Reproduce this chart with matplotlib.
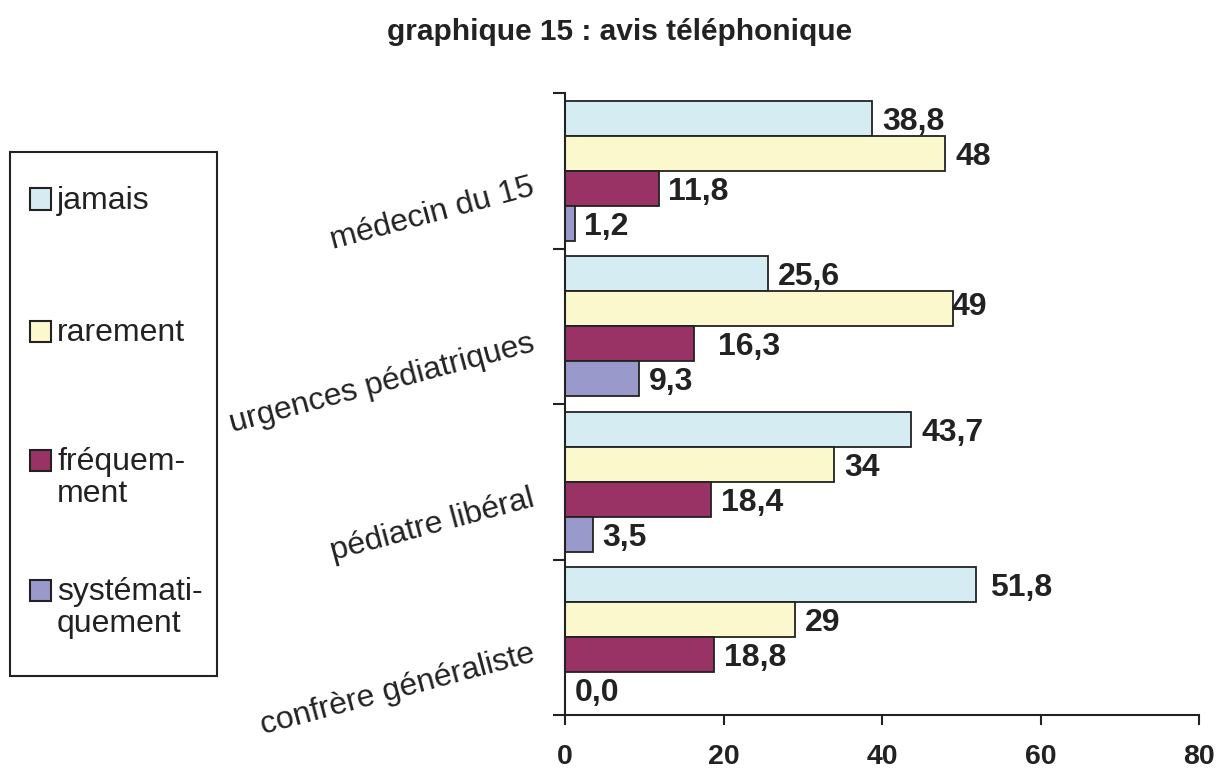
import matplotlib.pyplot as plt
from matplotlib.patches import Rectangle
from matplotlib.transforms import ScaledTranslation
import numpy as np

plt.rcParams['font.family'] = ['Liberation Sans', 'DejaVu Sans']

title = "graphique 15 : avis téléphonique"
categories = ["médecin du 15", "urgences pédiatriques", "pédiatre libéral", "confrère généraliste"]
series = ["jamais", "rarement", "fréquem-\nment", "systémati-\nquement"]
jamais = [38.8, 25.6, 43.7, 51.8]
rarement = [48, 49, 34, 29]
frequemment = [11.8, 16.3, 18.4, 18.8]
systematiquement = [1.2, 9.3, 3.5, 0.0]
decimals = [1, 0, 1, 1]
xticks = [0, 20, 40, 60, 80]

colors = ["#d4ecf2", "#fbf8cd", "#993366", "#9999cc"]
ink = '#222222'

W, H = 1219, 773
fig = plt.figure(figsize=(W / 100, H / 100), dpi=100)

def fx(px):
    return px / W

def fy(py):
    return 1 - py / H

ax = fig.add_axes([fx(565), fy(715), fx(1199) - fx(565), fy(93) - fy(715)])

values = [jamais, rarement, frequemment, systematiquement]
y = np.arange(len(categories))
h = 0.225
# a few labels sit off the bar end in the original
nudge = {(1, 1): (-1.5, 3.5), (2, 1): (17, 0), (0, 3): (10.5, 0)}
for j, vals in enumerate(values):
    pos = y - 1.5 * h + j * h
    ax.barh(pos, vals, height=h, color=colors[j], edgecolor=ink, linewidth=1.3)
    for i, v in enumerate(vals):
        dx, dy = nudge.get((j, i), (7, 0))
        txt = f"{v:.{decimals[j]}f}".replace('.', ',')
        ax.annotate(txt, (v, pos[i]), xytext=(dx, dy), textcoords='offset points',
                    ha='left', va='center_baseline', fontsize=23,
                    fontweight='bold', color=ink)

ax.set_xlim(0, 80)
ax.set_ylim(3.5, -0.5)
ax.set_xticks(xticks)
ax.set_xticklabels([str(t) for t in xticks], fontsize=20.5, fontweight='bold', color=ink)
ax.set_yticks(y, categories, fontsize=23, rotation=15, ha='right',
              va='center_baseline', rotation_mode='anchor', color=ink)
ax.set_yticks(np.arange(len(categories) + 1) - 0.5, minor=True)
ax.tick_params(axis='y', which='major', length=0, pad=23)
ax.tick_params(axis='y', which='minor', length=9, width=1.5, color=ink)
ax.tick_params(axis='x', length=7, width=1.5, pad=14, color=ink)
for s in ['top', 'right']:
    ax.spines[s].set_visible(False)
for s in ['left', 'bottom']:
    ax.spines[s].set_linewidth(1.5)
    ax.spines[s].set_color(ink)

shift = ScaledTranslation(0, -13 / 100, fig.dpi_scale_trans)
for lab in ax.get_yticklabels():
    lab.set_transform(lab.get_transform() + shift)

fig.text(fx(620), fy(32), title, ha='center', va='center', fontsize=21.5,
         fontweight='bold', color=ink)

# legend drawn by hand: markers sit on the first line of two-line labels
fig.add_artist(Rectangle((fx(10), fy(676)), fx(217) - fx(10), fy(152) - fy(676),
                         transform=fig.transFigure, fill=False, edgecolor=ink, linewidth=1.5))
centers = [199, 331, 460, 590]
for j, name in enumerate(series):
    c = centers[j]
    fig.add_artist(Rectangle((fx(29.5), fy(c + 10.5)), fx(21), 21 / H, transform=fig.transFigure,
                             facecolor=colors[j], edgecolor=ink, linewidth=1.5))
    for k, line in enumerate(name.split('\n')):
        fig.text(fx(57), fy(c + 10 + 32 * k), line, fontsize=23, ha='left',
                 va='baseline', color=ink)

fig.savefig('out.png', dpi=100)
